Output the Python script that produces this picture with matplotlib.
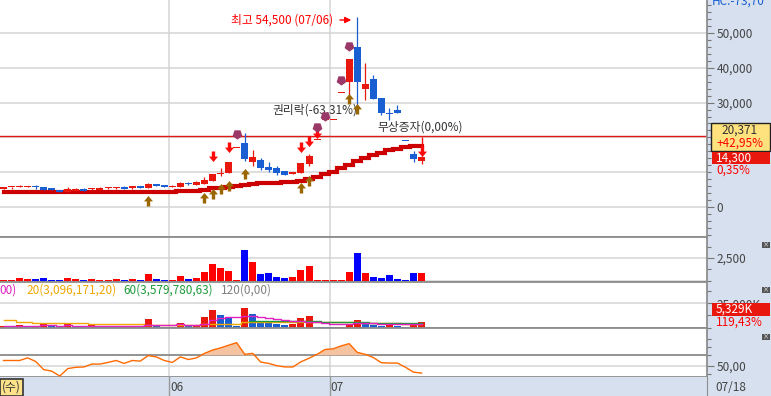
import matplotlib.pyplot as plt
import numpy as np
from matplotlib.path import Path
from matplotlib.patches import Rectangle
from matplotlib.ticker import MultipleLocator, FixedLocator, FuncFormatter

plt.rcParams['font.family'] = ['Noto Sans CJK KR', 'DejaVu Sans']

# ---- daily candles (adjusted price) ----
opens = [5170, 5620, 5720, 5660, 5770, 5830, 5460, 4890, 4310, 4600,
         5170, 5170, 4890, 5360, 5560, 5750, 5560, 6030, 5460, 6610,
         6320, 5830, 5750, 6750, 6320, 6610, 7470, 9480, 9770, 16950,
         18390, 12930, 13510, 11490, 11210, 10340, 9480, 9770, 12360, 19250,
         25000, 25000, 32850, 36010, 45980, 33910, 36780, 31320, 27010, 27870,
         18970, 15230, 13300]
highs = [5830, 5700, 6320, 6130, 6320, 5830, 5460, 4890, 5750, 5460,
         5460, 5460, 5750, 5650, 5750, 6030, 6030, 6030, 6900, 6610,
         6320, 6420, 7100, 7180, 7470, 8620, 9480, 11210, 12930, 16950,
         21260, 16380, 14080, 12930, 11780, 10340, 10060, 12640, 15230, 19250,
         25000, 25000, 32850, 42530, 54500, 41380, 37930, 31320, 28450, 29310,
         18970, 16090, 14650]
lows = [5170, 5170, 5720, 5660, 5170, 4970, 4890, 4310, 4310, 4600,
        4600, 4890, 4890, 5170, 5170, 5170, 5260, 5460, 5460, 6030,
        5750, 5830, 5750, 6320, 6320, 6610, 7470, 8910, 9770, 16950,
        13220, 11780, 10630, 10060, 9200, 9200, 9480, 9770, 11780, 19250,
        25000, 25000, 32850, 32180, 29110, 30750, 31030, 26440, 25000, 27010,
        18970, 12930, 12360]
closes = [5830, 5660, 5770, 5830, 5720, 4970, 4890, 4310, 5170, 5170,
          4600, 5460, 5460, 5650, 5750, 5170, 6030, 5460, 6610, 6030,
          5750, 6130, 6900, 6610, 7180, 7760, 9480, 9860, 12930, 16950,
          13790, 14370, 11210, 10630, 9770, 9200, 10060, 12640, 14660, 19250,
          25000, 25000, 32850, 42530, 36010, 35340, 31030, 27010, 26720, 27010,
          18970, 13790, 14300]
price_ma = [4450] * 22 + [4600, 4600, 4740, 4890, 5460, 5460, 5750, 6030,
            6320, 6610, 6900, 6900, 6900, 7180, 7180, 7470, 8050, 8620,
            9340, 10200, 11210, 12210, 13220, 14080, 14940, 15660, 16240, 16810,
            17240, 17530, 17530]

# volume (K)
volume = [110, 105, 230, 120, 115, 240, 110, 100, 330, 120,
          110, 115, 105, 110, 120, 100, 220, 110, 670, 210,
          110, 100, 450, 120, 330, 890, 1780, 1440, 1110, 90,
          3440, 2000, 670, 880, 440, 330, 340, 1220, 1660, 110,
          100, 40, 110, 890, 3110, 880, 440, 330, 560, 220,
          110, 780, 780]

# third pane bars (K) and its moving averages
pane3 = [1550, 1030, 2580, 1000, 1030, 3100, 1550, 1030, 3100, 1030,
         1000, 2070, 1550, 1030, 1000, 1030, 1550, 1030, 8990, 1550,
         1030, 1000, 4860, 1550, 2580, 11050, 18280, 13120, 11050, 1760,
         20350, 14150, 5890, 4860, 3820, 2790, 3820, 10020, 12090, 1030,
         1000, 520, 1030, 2580, 7950, 3100, 2070, 2000, 2580, 1550,
         1030, 4130, 5330]
pane3_ma5 = [1900, 1700, 1900, 1800, 1800, 2200, 2100, 2000, 2300, 2000,
             1900, 1900, 1800, 1700, 1600, 1500, 1400, 1500, 3000, 3000,
             3000, 3000, 3300, 2400, 2400, 4000, 7500, 9500, 10800, 10800,
             11800, 11800, 10500, 9500, 8500, 7500, 7000, 6800, 6000, 5500,
             4300, 3600, 3300, 3300, 4300, 4300, 4300, 3600, 3300, 3300,
             3300, 3900, 4000]
pane3_ma20 = [7750, 7400, 6000, 5300, 5000, 5000, 5000, 5000, 5000, 5000,
              5000, 3600, 3600, 3600, 3600, 3600, 3600, 3600, 2400, 2400,
              2400, 2400, 2400, 2400, 2400, 3600, 3600, 3600, 3600, 3600,
              6000, 6000, 6000, 6000, 6000, 6000, 6000, 6000, 6000, 6000,
              6000, 6000, 6000, 6000, 6000, 5000, 5000, 5000, 4300, 4300,
              4000, 4000, 4000]
pane3_ma60 = [np.nan] * 31 + [7000] * 9 + [5700] * 6 + [4300] * 7

# oscillator (bottom pane)
osc = [60.3, 60.3, 60.3, 65.2, 58.5, 43.3, 40.3, 31.2, 45.2, 47.6,
       48.2, 53.6, 53.6, 56.7, 60.3, 54.8, 60.3, 59.1, 69.4, 67.0,
       60.3, 56.7, 67.0, 62.1, 65.2, 73.6, 79.7, 83.9, 88.8, 93.6,
       71.8, 73.6, 57.3, 54.8, 50.6, 48.2, 48.2, 57.9, 64.5, 71.8,
       80.9, 82.1, 87.6, 91.8, 75.5, 71.8, 65.8, 56.1, 55.5, 55.5,
       47.6, 38.5, 36.7]

# signal markers: (bar index, price)
buy_sig = [(18, 2010), (25, 2870), (26, 4020), (27, 5460), (28, 6320),
           (30, 9770), (37, 5750), (38, 7760), (43, 31320), (44, 28450)]
sell_sig = [(26, 14370), (28, 16950), (37, 16950), (38, 18680), (39, 20980),
            (52, 15800)]
event_sig = [(29, 20980), (39, 22990), (40, 26150), (42, 36500), (43, 46270)]

month_starts = [20.55, 40.55]
month_labels = ['06', '07']
ref_price = 20371

W, H = 771, 396
BG = '#d6e0ee'
RED, BLUE = '#e8180e', '#1a5fd2'
GRID = '#d4d4d4'
SEP = '#8e8e8e'
TXT = '#444444'

fig = plt.figure(figsize=(W / 100, H / 100), dpi=100, facecolor=BG)


def panel(x0, y0, x1, y1):
    return fig.add_axes([x0 / W, 1 - y1 / H, (x1 - x0) / W, (y1 - y0) / H])


def px_per_bar(n):
    return n


n = len(closes)
x = np.arange(n)
xl = (-3.5 / 8.04, (707 - 3.5) / 8.04)
bw = 7 / 8.04


def style(ax, top=True):
    ax.set_facecolor('white')
    ax.set_xlim(*xl)
    ax.set_xticks([])
    ax.spines['left'].set_visible(False)
    for s in ['right', 'bottom', 'top']:
        ax.spines[s].set_color(SEP)
        ax.spines[s].set_linewidth(1.3)
    ax.spines['top'].set_visible(top)
    ax.yaxis.tick_right()
    ax.tick_params(axis='y', which='major', direction='out', length=5, width=0.8,
                   color='#777777', pad=2, labelsize=8.5, labelcolor=TXT)
    ax.tick_params(axis='y', which='minor', direction='out', length=3, width=0.8,
                   color='#777777')
    for m in month_starts:
        ax.axvline(m, color=GRID, lw=1.1, zorder=0)


# colours of candles
up = []
for i in range(n):
    if closes[i] > opens[i]:
        up.append(True)
    elif closes[i] < opens[i]:
        up.append(False)
    else:
        up.append(i == 0 or closes[i] >= closes[i - 1])
ccol = [RED if u else BLUE for u in up]

# ---- price pane ----
ax = panel(0, 0, 707, 237)
style(ax, top=False)
ax.set_ylim((207 - 237) / 0.00348, 207 / 0.00348)
ax.yaxis.set_major_locator(FixedLocator([0, 30000, 40000, 50000]))
ax.yaxis.set_minor_locator(MultipleLocator(2000))
ax.yaxis.set_major_formatter(FuncFormatter(lambda v, p: f'{int(v):,}'))
for g in range(0, 60000, 10000):
    ax.axhline(g, color=GRID, lw=1.1, zorder=0)
ax.axhline(ref_price, color='#e01818', lw=1.0, zorder=1)
ax.step(x, price_ma, where='mid', color='#cc0000', lw=3.0, zorder=2, solid_joinstyle='miter')
ax.vlines(x, lows, highs, colors=ccol, lw=0.9, zorder=3)
bot = np.minimum(opens, closes)
hgt = np.maximum(np.abs(np.array(closes) - np.array(opens)), 290)
ax.bar(x, hgt, bw, bottom=bot, color=ccol, lw=0, zorder=4)

down_arrow = Path([(-0.28, 1.0), (0.28, 1.0), (0.28, 0.15), (0.75, 0.15), (0, -0.75),
                   (-0.75, 0.15), (-0.28, 0.15), (-0.28, 1.0)])
up_arrow = Path([(vx, -vy) for vx, vy in down_arrow.vertices])
bx, by = zip(*buy_sig)
sx, sy = zip(*sell_sig)
ex, ey = zip(*event_sig)
ax.scatter(bx, by, marker=up_arrow, s=75, color='#9a6600', lw=0, zorder=5)
ax.scatter(sx, sy, marker=down_arrow, s=75, color='#ff0a0a', lw=0, zorder=5)
ax.scatter(ex, ey, marker=(5, 0, 180), s=55, color='#9a3868', lw=0, zorder=5)

ax.text(40.98, 53740, '최고 54,500 (07/06)', color='#ff0000', fontsize=8.5,
        ha='right', va='center', zorder=6)
ax.annotate('', xy=(43.6, 53740), xytext=(41.5, 53740),
            arrowprops=dict(arrowstyle='-|>', color='#ff0000', lw=1.0,
                            mutation_scale=9), zorder=6)
ax.text(33.4, 27870, '권리락(-63,31%)', color='#333333', fontsize=8.5,
        ha='left', va='center', zorder=4.5)
ax.text(46.45, 22990, '무상증자(0,00%)', color='#333333', fontsize=8.5,
        ha='left', va='center', zorder=6)
ax.vlines(52, 17300, 20200, colors='#ff0a0a', lw=1.0, zorder=5)

# ---- volume pane ----
ax2 = panel(0, 237, 707, 282)
style(ax2)
ax2.set_ylim(-1.5 * 111.1, 43.5 * 111.1)
ax2.yaxis.set_major_locator(FixedLocator([2500]))
ax2.yaxis.set_minor_locator(FixedLocator([0, 1250, 3750]))
ax2.yaxis.set_major_formatter(FuncFormatter(lambda v, p: f'{int(v):,}'))
ax2.axhline(2500, color=GRID, lw=1.1, zorder=0)
ax2.axhline(0, color=GRID, lw=1.1, zorder=0)
vcol = ['#ff0000' if u else '#0000ff' for u in up]
ax2.bar(x, volume, bw, color=vcol, lw=0, zorder=3)

# ---- third pane ----
ax3 = panel(0, 282, 707, 328)
style(ax3)
ax3.set_ylim(-0.5 * 1033, 45.5 * 1033)
ax3.yaxis.set_major_locator(FixedLocator([25000]))
ax3.yaxis.set_minor_locator(FixedLocator([0, 12500, 37500]))
ax3.yaxis.set_major_formatter(FuncFormatter(lambda v, p: f'{int(v):,}K'))
ax3.axhline(25000, color=GRID, lw=1.1, zorder=0)
ax3.axhline(0, color=GRID, lw=1.1, zorder=0)
p3col = [RED if (i == 0 or pane3[i] >= pane3[i - 1]) else BLUE for i in range(n)]
ax3.bar(x, pane3, bw, color=p3col, lw=0, zorder=3)
ax3.step(x, pane3_ma20, where='mid', color='#f0a800', lw=1.0, zorder=4)
ax3.step(x, pane3_ma60, where='mid', color='#1d9a3a', lw=1.0, zorder=4)
ax3.step(x, pane3_ma5, where='mid', color='#e020c0', lw=1.0, zorder=4)
ax3.text(-0.5, 38500, '00)', color='#e020c0', fontsize=8.5, ha='left', va='center')
ax3.text(2.9, 38500, '20(3,096,171,20)', color='#f0a800', fontsize=8.5, ha='left', va='center')
ax3.text(14.9, 38500, '60(3,579,780,63)', color='#1d9a3a', fontsize=8.5, ha='left', va='center')
ax3.text(27.1, 38500, '120(0,00)', color='#808080', fontsize=8.5, ha='left', va='center')

# ---- oscillator pane ----
ax4 = panel(0, 328, 707, 377)
style(ax4)
ax4.set_ylim(50 - 11 / 0.535, 50 + 38 / 0.535)
ax4.yaxis.set_major_locator(FixedLocator([50]))
ax4.yaxis.set_minor_locator(FixedLocator([70, 85, 100, 35]))
ax4.yaxis.set_major_formatter(FuncFormatter(lambda v, p: '50,00'))
ax4.axhline(50, color=GRID, lw=1.1, zorder=0)
ax4.axhline(70, color='#8a8a8a', lw=1.3, zorder=1)
osc_a = np.array(osc)
ax4.fill_between(x, 70, osc_a, where=osc_a > 70, interpolate=True,
                 color='#f6c3a0', lw=0, zorder=2)
ax4.plot(x, osc, color='#ff6a00', lw=1.0, zorder=3)

# ---- date strip ----
ax5 = panel(0, 377, 707, 396)
ax5.set_facecolor(BG)
ax5.set_xlim(*xl)
ax5.set_ylim(0, 1)
ax5.set_xticks([])
ax5.set_yticks([])
for s in ['left', 'top', 'bottom']:
    ax5.spines[s].set_visible(False)
ax5.spines['right'].set_color(SEP)
for m, lab in zip(month_starts, month_labels):
    ax5.axvline(m, color='#999999', lw=1.0)
    ax5.text(m + 0.15, 0.45, lab, color=TXT, fontsize=8.5, ha='left', va='center')

fig.add_artist(Rectangle((0, 0), 22.7 / W, 17 / H, transform=fig.transFigure,
                         fc='#fde28a', ec='#333333', lw=1.2))
fig.text(21 / W, 1 - 387.5 / H, '(수)', color='#333333', fontsize=8.5, ha='right', va='center')
fig.text(715 / W, 1 - 387.5 / H, '07/18', color=TXT, fontsize=8.5, ha='left', va='center')

# ---- right-hand value tags ----
fig.add_artist(Rectangle((711 / W, 1 - 151 / H), 59 / W, 28 / H, transform=fig.transFigure,
                         fc='#fde27e', ec='#222222', lw=1.0))
fig.text(740 / W, 1 - 130 / H, '20,371', color='#333333', fontsize=8.5, ha='center', va='center')
fig.text(740 / W, 1 - 143.5 / H, '+42,95%', color='#ff0000', fontsize=8.5, ha='center', va='center')
fig.add_artist(Rectangle((712 / W, 1 - 163.5 / H), 58 / W, 11.5 / H, transform=fig.transFigure,
                         fc='#e8180e', ec='none'))
fig.text(716 / W, 1 - 158 / H, '14,300', color='white', fontsize=8.5, ha='left', va='center')
fig.text(716 / W, 1 - 170 / H, '0,35%', color='#ff0000', fontsize=8.5, ha='left', va='center')
fig.add_artist(Rectangle((712 / W, 1 - 315.5 / H), 58 / W, 12.5 / H, transform=fig.transFigure,
                         fc='#e8180e', ec='none'))
fig.text(716 / W, 1 - 309.5 / H, '5,329K', color='white', fontsize=8.5, ha='left', va='center')
fig.text(716 / W, 1 - 322 / H, '119,43%', color='#ff0000', fontsize=8.5, ha='left', va='center')
fig.text(712 / W, 1 - 1 / H, 'HC:-73,70', color='#1a5fd2', fontsize=8.5, ha='left', va='center')

for yb in [244.5, 289.5, 336.5]:
    fig.add_artist(Rectangle((762 / W, 1 - (yb + 3) / H), 7.5 / W, 6 / H,
                             transform=fig.transFigure, fc='#555555', ec='none'))
    fig.text(765.8 / W, 1 - yb / H, '×', color='white', fontsize=4.5, ha='center', va='center')

fig.savefig('out.png', dpi=100, facecolor=BG)
